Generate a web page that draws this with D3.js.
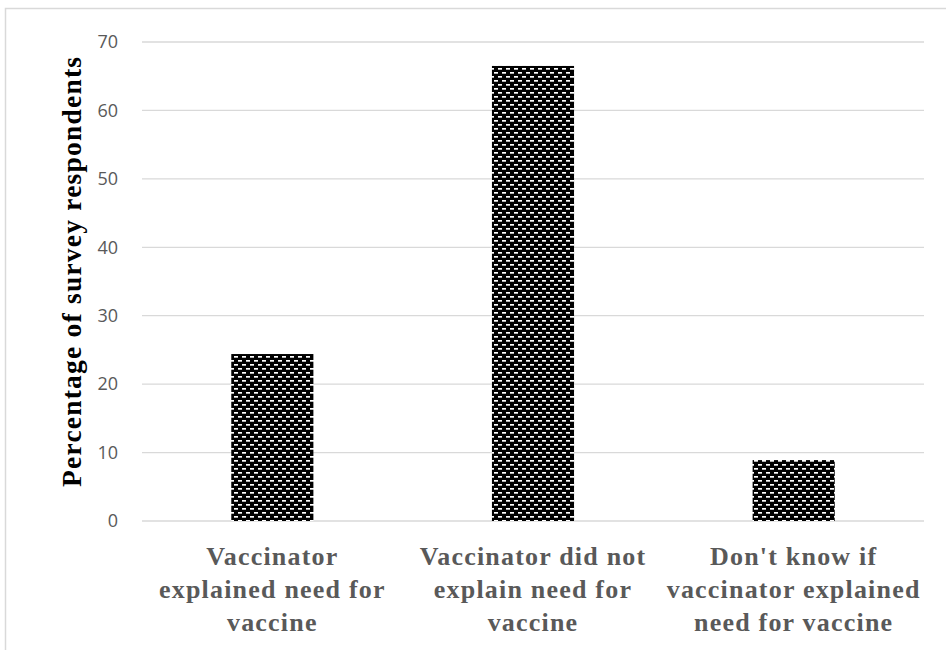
<!DOCTYPE html>
<html>
<head>
<meta charset="utf-8">
<script src="https://cdn.jsdelivr.net/npm/d3@7"></script>
<style>
  html, body { margin: 0; padding: 0; background: #fff; }
  svg { display: block; }
</style>
</head>
<body>
<svg id="chart" width="946" height="650"></svg>
<script>
// Survey responses: was the need for the vaccine explained?
const categories = [
  ["Vaccinator", "explained need for", "vaccine"],
  ["Vaccinator did not", "explain need for", "vaccine"],
  ["Don't know if", "vaccinator explained", "need for vaccine"]
];
const values = [24.4, 66.5, 8.9];
const yTicks = [0, 10, 20, 30, 40, 50, 60, 70];
const yTitle = "Percentage of survey respondents";

const serif = "'Liberation Serif', 'Times New Roman', serif";
const svg = d3.select("#chart");
const plot = { left: 142, right: 924, top: 42, bottom: 521 };

// outer chart frame
svg.append("rect")
  .attr("x", 5.5).attr("y", 8.5)
  .attr("width", 1200).attr("height", 1200)
  .attr("fill", "none").attr("stroke", "#d9d9d9").attr("stroke-width", 1.5);

// dashed-brick fill for the bars
const defs = svg.append("defs");
const pat = defs.append("pattern")
  .attr("id", "brick")
  .attr("patternUnits", "userSpaceOnUse")
  .attr("width", 8).attr("height", 8)
  .attr("x", 230).attr("y", 400);
pat.append("rect").attr("width", 8).attr("height", 8).attr("fill", "#000");
pat.append("rect").attr("x", 0).attr("y", 0).attr("width", 4).attr("height", 1.7).attr("fill", "#fff");
pat.append("rect").attr("x", 4).attr("y", 4).attr("width", 4).attr("height", 1.7).attr("fill", "#fff");

const x = d3.scaleBand()
  .domain(d3.range(categories.length))
  .range([plot.left, plot.right])
  .paddingInner(0.685)
  .paddingOuter(0.3425);

const y = d3.scaleLinear()
  .domain([0, 70])
  .range([plot.bottom, plot.top]);

// gridlines
svg.append("g")
  .selectAll("line")
  .data(yTicks)
  .join("line")
  .attr("x1", plot.left).attr("x2", plot.right)
  .attr("y1", d => y(d)).attr("y2", d => y(d))
  .attr("stroke", "#d9d9d9").attr("stroke-width", 1.3);

// y axis tick labels
const yAxis = d3.axisLeft(y).tickValues(yTicks).tickSize(0).tickPadding(0);
const yg = svg.append("g")
  .attr("transform", `translate(118,0)`)
  .call(yAxis);
yg.select(".domain").remove();
yg.selectAll("text")
  .attr("fill", "#595959")
  .attr("font-family", "'Open Sans', sans-serif")
  .attr("font-size", 18);

// bars
svg.append("g")
  .selectAll("rect")
  .data(values)
  .join("rect")
  .attr("x", (d, i) => x(i))
  .attr("width", x.bandwidth())
  .attr("y", d => y(d))
  .attr("height", d => y(0) - y(d))
  .attr("fill", "url(#brick)");

// category labels, three lines each
const cat = svg.append("g")
  .selectAll("text")
  .data(categories)
  .join("text")
  .attr("text-anchor", "middle")
  .attr("fill", "#595959")
  .style("font-family", serif)
  .style("font-weight", "bold")
  .style("font-size", "26px")
  .style("letter-spacing", "1.2px");
cat.each(function (lines, i) {
  const cx = x(i) + x.bandwidth() / 2;
  d3.select(this).selectAll("tspan")
    .data(lines)
    .join("tspan")
    .attr("x", cx)
    .attr("y", (d, j) => 565 + j * 33)
    .style("font-family", serif)
    .text(d => d);
});

// y axis title
svg.append("text")
  .attr("transform", `translate(81,272) rotate(-90)`)
  .attr("text-anchor", "middle")
  .attr("fill", "#000")
  .style("font-family", serif)
  .style("font-weight", "bold")
  .style("font-size", "27.5px")
  .attr("textLength", 430)
  .attr("lengthAdjust", "spacing")
  .text(yTitle);
</script>
</body>
</html>
